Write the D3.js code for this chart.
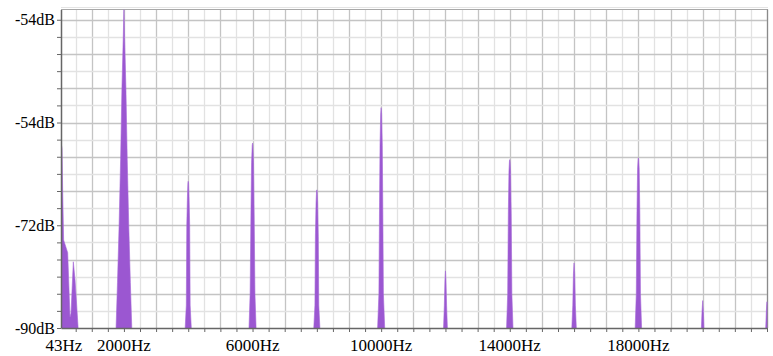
<!DOCTYPE html>
<html>
<head>
<meta charset="utf-8">
<script src="https://cdn.jsdelivr.net/npm/d3@7"></script>
<style>
  body { margin: 0; background: #fff; }
  svg { display: block; }
</style>
</head>
<body>
<svg width="773" height="356"></svg>
<script>
// tick labels (the top one really reads -54dB in the source)
var yTickValues = [-90, -72, -54, -36];
var yTickLabels = ["-90dB", "-72dB", "-54dB", "-54dB"];
var xTickValues = [43, 2000, 6000, 10000, 14000, 18000];
var xTickLabels = ["43Hz", "2000Hz", "6000Hz", "10000Hz", "14000Hz", "18000Hz"];

// low band around the first bins
var lowBand = [
  [43, -57.5], [75, -58.5], [95, -66], [125, -74.6], [251, -76.8], [323, -88.1], [354, -87.4],
  [426, -78.4], [480, -81.6], [581, -90.5], [600, -100]
];

// harmonic peaks, [Hz, dB]
var peak2000 = [[1740,-100],[1750,-91],[1800,-82],[1850,-72],[1897,-60.5],[1938,-48],[1975,-40],[2000,-34.2],
  [2025,-40],[2062,-48],[2103,-60.5],[2150,-72],[2200,-82],[2250,-91],[2260,-100]];
var peak4000 = [[3900,-100],[3905,-90],[3940,-86],[3955,-72],[3975,-67],[3990,-64.6],[4000,-64.3],[4010,-64.6],[4025,-67],[4045,-72],[4060,-86],[4095,-90],[4100,-100]];
var peak6000 = [[5880,-100],[5890,-90],[5925,-84],[5950,-70],[5970,-61],[5990,-58],[6000,-57.6],[6010,-58],[6030,-61],[6050,-70],[6075,-84],[6110,-90],[6120,-100]];
var peak8000 = [[7900,-100],[7905,-90],[7940,-86],[7955,-74],[7975,-68],[7990,-66.1],[8000,-65.8],[8010,-66.1],[8025,-68],[8045,-74],[8060,-86],[8095,-90],[8100,-100]];
var peak10000 = [[9880,-100],[9890,-90],[9930,-84],[9950,-68],[9965,-58],[9985,-52.5],[10000,-51.4],[10015,-52.5],[10035,-58],[10050,-68],[10070,-84],[10110,-90],[10120,-100]];
var peak12000 = [[11930,-100],[11940,-90],[11965,-86],[11985,-81.5],[12000,-80],[12015,-81.5],[12035,-86],[12060,-90],[12070,-100]];
var peak14000 = [[13890,-100],[13900,-90],[13935,-84],[13955,-70],[13975,-62.5],[13990,-60.8],[14000,-60.5],[14010,-60.8],[14025,-62.5],[14045,-70],[14065,-84],[14100,-90],[14110,-100]];
var peak16000 = [[15920,-100],[15930,-90],[15960,-86],[15980,-80.5],[16000,-78.6],[16020,-80.5],[16040,-86],[16070,-90],[16080,-100]];
var peak18000 = [[17890,-100],[17900,-90],[17935,-84],[17955,-70],[17975,-62.2],[17990,-60.5],[18000,-60.2],[18010,-60.5],[18025,-62.2],[18045,-70],[18065,-84],[18100,-90],[18110,-100]];
var peak20000 = [[19950,-100],[19960,-90],[19980,-87],[20000,-85.2],[20020,-87],[20040,-90],[20050,-100]];
var peak22000 = [[21950,-100],[21960,-90],[21980,-87],[22000,-85.4]];

var spectrum = [lowBand, peak2000, peak4000, peak6000, peak8000, peak10000,
  peak12000, peak14000, peak16000, peak18000, peak20000, peak22000];

var svg = d3.select("svg"),
    plotLeft = 61, plotRight = 767, plotTop = 9.5, plotBottom = 328,
    serif = "'Liberation Serif', 'Times New Roman', Times, serif";

var x = d3.scaleLinear().domain([43, 22000]).range([plotLeft, plotRight]);
var y = d3.scaleLinear().domain([-90, -34.2]).range([plotBottom, plotTop]);

// grid
var vMinor = d3.range(500, 22001, 500);
var hMinor = d3.range(-87, -35, 3);

svg.append("g").selectAll("line")
  .data(vMinor)
  .enter().append("line")
    .attr("x1", function(d) { return Math.round(x(d)) + 0.5; })
    .attr("x2", function(d) { return Math.round(x(d)) + 0.5; })
    .attr("y1", plotTop).attr("y2", plotBottom)
    .attr("stroke", function(d) { return d % 1000 === 0 ? "#c4c4c4" : "#e2e2e2"; })
    .attr("stroke-width", 1.3);

svg.append("g").selectAll("line")
  .data(hMinor)
  .enter().append("line")
    .attr("y1", function(d) { return Math.round(y(d)) + 0.5; })
    .attr("y2", function(d) { return Math.round(y(d)) + 0.5; })
    .attr("x1", plotLeft).attr("x2", plotRight)
    .attr("stroke", function(d) { return (d + 90) % 6 === 0 ? "#c4c4c4" : "#e2e2e2"; })
    .attr("stroke-width", 1.3);

// frame top / right
svg.append("line").attr("x1", plotLeft).attr("x2", plotRight + 1).attr("y1", plotTop).attr("y2", plotTop)
  .attr("stroke", "#a8a8a8").attr("stroke-width", 1.2);
svg.append("line").attr("x1", plotLeft).attr("x2", plotRight + 1).attr("y1", plotTop - 2).attr("y2", plotTop - 2)
  .attr("stroke", "#e4e4e4").attr("stroke-width", 1);
svg.append("line").attr("x1", plotRight + 0.5).attr("x2", plotRight + 0.5).attr("y1", plotTop).attr("y2", plotBottom)
  .attr("stroke", "#8a8a8a").attr("stroke-width", 1.2);

// spectrum
svg.append("clipPath").attr("id", "plot")
  .append("rect").attr("x", plotLeft).attr("y", plotTop)
  .attr("width", plotRight - plotLeft + 1).attr("height", plotBottom - plotTop);

var area = d3.area()
  .x(function(d) { return x(d[0]); })
  .y0(y(-100))
  .y1(function(d) { return y(d[1]); });

svg.append("g").attr("clip-path", "url(#plot)")
  .selectAll("path")
  .data(spectrum)
  .enter().append("path")
    .attr("d", area)
    .attr("fill", "#9b57d1")
    .attr("stroke", "#a466d6")
    .attr("stroke-width", 0.6);

// axes
svg.append("g")
    .attr("transform", "translate(0," + plotBottom + ")")
    .call(d3.axisBottom(x).tickValues(vMinor).tickSize(4).tickSizeOuter(0).tickFormat(""))
    .call(function(g) {
      g.select(".domain").attr("stroke", "#666").attr("stroke-width", 1.5);
      g.selectAll(".tick line").attr("stroke", "#666");
    });

svg.append("g")
    .attr("transform", "translate(" + plotLeft + ",0)")
    .call(d3.axisLeft(y).tickValues(hMinor.concat([-90])).tickSize(4).tickSizeOuter(0).tickFormat(""))
    .call(function(g) {
      g.select(".domain").attr("stroke", "#666").attr("stroke-width", 1.5);
      g.selectAll(".tick line").attr("stroke", "#666");
    });

// labels
svg.append("g").selectAll("text")
  .data(yTickValues)
  .enter().append("text")
    .attr("x", 55)
    .attr("y", function(d) { return y(d); })
    .attr("dy", "0.35em")
    .attr("text-anchor", "end")
    .attr("font-family", serif)
    .attr("font-size", 16)
    .attr("fill", "#000")
    .text(function(d, i) { return yTickLabels[i]; });

svg.append("g").selectAll("text")
  .data(xTickValues)
  .enter().append("text")
    .attr("x", function(d, i) { return x(d) + (i === 0 ? 3 : 0); })
    .attr("y", 351)
    .attr("text-anchor", "middle")
    .attr("font-family", serif)
    .attr("font-size", 17)
    .attr("fill", "#000")
    .text(function(d, i) { return xTickLabels[i]; });
</script>
</body>
</html>
